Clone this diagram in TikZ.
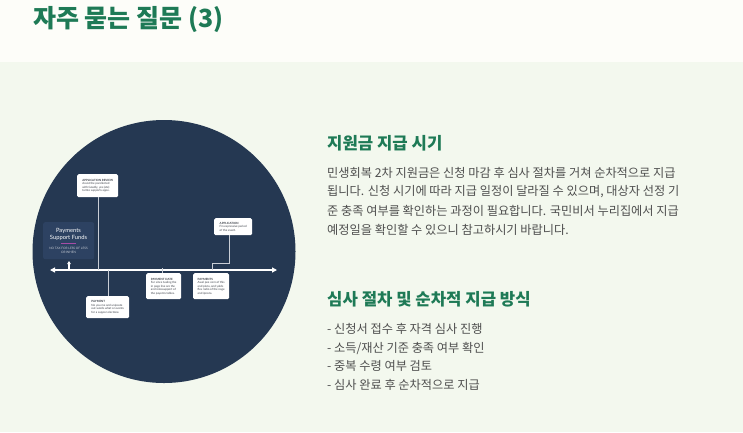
\documentclass[tikz,border=0pt]{standalone}
\usepackage{fontspec}
\setmainfont{Noto Sans CJK KR}
\newfontfamily\latofont{Lato}
\usetikzlibrary{arrows.meta}
\definecolor{topbg}{HTML}{FDFDF9}
\definecolor{lowbg}{HTML}{F3F8EE}
\definecolor{titlegreen}{HTML}{1E7A56}
\definecolor{bodygray}{HTML}{4E4E4E}
\definecolor{navy}{HTML}{253852}
\definecolor{navybox}{HTML}{2D4262}
\definecolor{linegray}{HTML}{C9CED6}
\definecolor{boxtext}{HTML}{3A3F47}
\tikzset{
  card/.style={fill=white, rounded corners=1.5pt, inner sep=1.6pt, align=left, anchor=north west, text=boxtext, font=\latofont\fontsize{2.9}{3.5}\selectfont},
  conn/.style={draw=linegray, line width=0.7pt},
  para/.style={anchor=west, text=bodygray, font=\fontsize{12.2}{14}\selectfont, inner sep=0pt},
  head/.style={anchor=west, text=titlegreen, font=\bfseries\fontsize{16.7}{18}\selectfont, inner sep=0pt}
}
\begin{document}
\begin{tikzpicture}[x=1pt,y=-1pt]
\useasboundingbox (0,0) rectangle (743,432);
\fill[topbg] (0,0) rectangle (743,62);
\fill[lowbg] (0,62) rectangle (743,432);
\node[anchor=west, text=titlegreen, font=\bfseries\fontsize{25}{27}\selectfont, inner sep=0pt] (title) at (33,20) {자주 묻는 질문 (3)};

% circle illustration
\fill[navy] (164,251.5) circle (131.5);
\node[fill=navybox, rounded corners=2pt, minimum width=51pt, minimum height=37pt, anchor=north west, inner sep=0pt] (fund) at (43,222) {};
\node[text=white, font=\latofont\fontsize{5.8}{7.2}\selectfont, align=center, inner sep=0pt] (fundtitle) at (68.5,234.5) {Payments\\Support Funds};
\draw[draw=violet!70!white, line width=0.6pt] (61,243.5) -- (76,243.5);
\node[text=linegray, font=\latofont\fontsize{3.1}{3.9}\selectfont, align=center, inner sep=0pt] (fundsub) at (68.5,250) {NO TAX FOR LESS OF LESS\\OR WHEN};

\coordinate (axL) at (50,270);
\coordinate (axR) at (277,270);
\draw[white, line width=1.3pt, {Triangle[length=5pt,width=5pt]}-{Triangle[length=5pt,width=5pt]}] (axL) -- (axR);
\coordinate (upS) at (69,270);
\coordinate (upE) at (69,261);
\draw[white, line width=1.1pt, -{Triangle[length=3pt,width=3.5pt]}] (upS) -- (upE);

\node[card, minimum width=41pt, minimum height=23pt] (review) at (77,174) {\textbf{APPLICATION REVIEW}\\Assist the parellected\\with Goadly, yes (ate)\\tarnte supports appe.};
\node[card, minimum width=38pt, minimum height=17pt] (appl) at (214,218) {\textbf{APPLICATION}\\Fin expressive period\\of the event.};
\node[card, minimum width=35pt, minimum height=26pt] (pdate) at (146,273) {\textbf{PAYMENT DATE}\\Fur since tusling the\\in page line are the\\and releasupport of\\the payents tables.};
\node[card, minimum width=36pt, minimum height=26pt] (pays) at (193,273) {\textbf{PAYMENTS}\\Awel pee corn of this\\and plans, and yolds\\fles radio of the nage\\and ipnons.};
\node[card, minimum width=43pt, minimum height=22pt] (pay) at (86,296) {\textbf{PAYMENT}\\No you me and unipaste\\out words what or events\\for a suppor electone.};

\coordinate (revAx) at (98,270);
\draw[conn] (review.south -| revAx) -- (revAx);
\coordinate (applBend1) at (229,263);
\coordinate (applBend2) at (212,263);
\coordinate (applAx) at (212,270);
\draw[conn] (appl.south -| applBend1) -- (applBend1) -- (applBend2) -- (applAx);
\coordinate (pdAx) at (162,268);
\draw[conn] (pdAx) -- (pdate.north -| pdAx);
\coordinate (payAx) at (108,270);
\draw[conn] (payAx) -- (pay.north -| payAx);

% right text
\node[head] (h1) at (327,143) {지원금 지급 시기};
\node[para] (p1) at (327,173) {민생회복 2차 지원금은 신청 마감 후 심사 절차를 거쳐 순차적으로 지급};
\node[para] (p2) at (327,192) {됩니다. 신청 시기에 따라 지급 일정이 달라질 수 있으며, 대상자 선정 기};
\node[para] (p3) at (327,211) {준 충족 여부를 확인하는 과정이 필요합니다. 국민비서 누리집에서 지급};
\node[para] (p4) at (327,230) {예정일을 확인할 수 있으니 참고하시기 바랍니다.};

\node[head] (h2) at (327,299) {심사 절차 및 순차적 지급 방식};
\node[para] (l1) at (327,329) {- 신청서 접수 후 자격 심사 진행};
\node[para] (l2) at (327,348) {- 소득/재산 기준 충족 여부 확인};
\node[para] (l3) at (327,366) {- 중복 수령 여부 검토};
\node[para] (l4) at (327,385) {- 심사 완료 후 순차적으로 지급};
\end{tikzpicture}
\end{document}
